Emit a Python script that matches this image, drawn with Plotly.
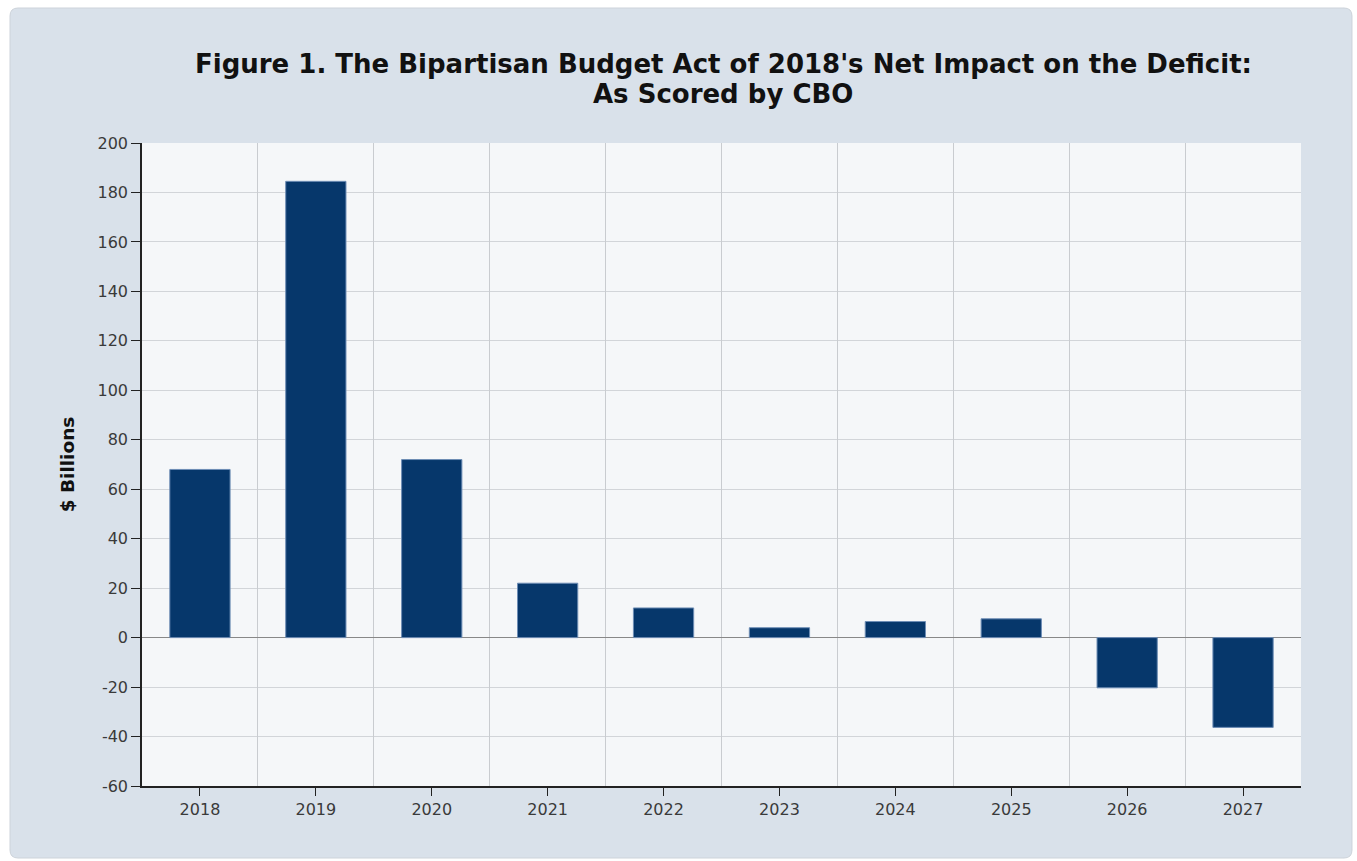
import plotly.graph_objects as go

years = ["2018", "2019", "2020", "2021", "2022", "2023", "2024", "2025", "2026", "2027"]
impact = [68, 184.5, 72, 22, 12, 4, 6.5, 7.6, -20.3, -36.3]
y_ticks = [-60, -40, -20, 0, 20, 40, 60, 80, 100, 120, 140, 160, 180, 200]
y_ticktext = [str(v) for v in y_ticks]
title_lines = ["Figure 1. The Bipartisan Budget Act of 2018's Net Impact on the Deficit:",
               "As Scored by CBO"]

W, H = 1357, 861
ml, mr, mt, mb = 142, 56, 143, 75
pw, ph = W - ml - mr, H - mt - mb

def px2paper(x, y):
    return (x - ml) / pw, (H - mb - y) / ph

# rounded panel path
x0, y0, x1, y1, r = 10, 8, 1352, 858, 8
def P(x, y):
    a, b = px2paper(x, y)
    return f"{a:.5f},{b:.5f}"
path = (f"M {P(x0 + r, y0)} L {P(x1 - r, y0)} Q {P(x1, y0)} {P(x1, y0 + r)} "
        f"L {P(x1, y1 - r)} Q {P(x1, y1)} {P(x1 - r, y1)} "
        f"L {P(x0 + r, y1)} Q {P(x0, y1)} {P(x0, y1 - r)} "
        f"L {P(x0, y0 + r)} Q {P(x0, y0)} {P(x0 + r, y0)} Z")

fig = go.Figure()
fig.add_trace(go.Bar(
    x=years, y=impact, width=0.52,
    marker=dict(color="#06376B", line=dict(color="#6D8DB5", width=1)),
    hoverinfo="x+y", showlegend=False,
))
# invisible trace to drive the boundary gridlines axis
fig.add_trace(go.Scatter(x=years, y=[0] * len(years), xaxis="x2", mode="markers",
                         marker=dict(opacity=0), hoverinfo="skip", showlegend=False))

font = "DejaVu Sans, Verdana, sans-serif"
annotations = []
for i, (line, ypx) in enumerate(zip(title_lines, [64, 94])):
    annotations.append(dict(
        text=f"<b>{line}</b>", showarrow=False,
        xref="paper", yref="paper", x=(723 - ml) / pw, xanchor="center",
        y=px2paper(0, ypx)[1], yanchor="middle",
        font=dict(family=font, size=26, color="#111111"),
    ))

fig.update_layout(
    width=W, height=H,
    margin=dict(l=ml, r=mr, t=mt, b=mb, pad=0),
    paper_bgcolor="white",
    plot_bgcolor="rgba(0,0,0,0)",
    font=dict(family=font, color="#333333", size=16),
    annotations=annotations,
    xaxis=dict(
        type="category", categoryorder="array", categoryarray=years,
        range=[-0.5, 9.5], showgrid=False, zeroline=False,
        showline=True, linecolor="#222222", linewidth=1.5,
        ticks="outside", ticklen=8, tickcolor="#222222",
        tickfont=dict(size=16, color="#3A3A3A"),
    ),
    xaxis2=dict(
        type="category", categoryorder="array", categoryarray=years,
        range=[-0.5, 9.5], overlaying="x", matches="x",
        tickson="boundaries", showgrid=True, gridcolor="#C9CCD0", gridwidth=1,
        showticklabels=False, ticks="", showline=False, zeroline=False,
    ),
    yaxis=dict(
        range=[-60, 200], tickvals=y_ticks, ticktext=y_ticktext, showgrid=True,
        gridcolor="#D2D5D9", gridwidth=1,
        zeroline=True, zerolinecolor="#888888", zerolinewidth=1,
        showline=True, linecolor="#222222", linewidth=1.5,
        ticks="outside", ticklen=9, tickcolor="#222222",
        tickfont=dict(size=16, color="#3A3A3A"),
        title=dict(text="<b>$ Billions</b>", standoff=18,
                   font=dict(size=18.5, color="#111111")),
    ),
    shapes=[
        dict(type="path", path=path, xref="paper", yref="paper",
             fillcolor="#D9E1EA", line=dict(color="#CDD3DA", width=1), layer="below"),
        dict(type="rect", x0=0, x1=1, y0=0, y1=1, xref="paper", yref="paper",
             fillcolor="#F5F7F9", line=dict(width=0), layer="below"),
    ],
)

fig.write_html("out.html")
